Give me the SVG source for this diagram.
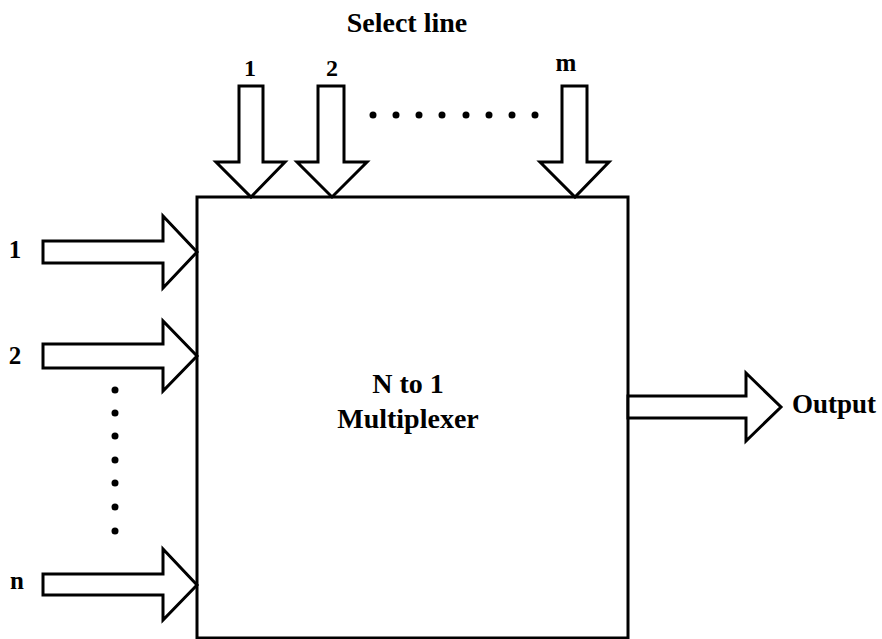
<svg xmlns="http://www.w3.org/2000/svg" width="882" height="639" viewBox="0 0 882 639">
<style>
.ln{fill:#fff;stroke:#000;stroke-width:3;stroke-linejoin:miter}
.t{font-family:"Liberation Serif","Times New Roman",serif;font-weight:bold;fill:#000}
.dot{fill:#000}
</style>
<rect width="882" height="639" fill="#fff"/>
<g id="mux">
<rect class="ln" x="197" y="197" width="431" height="441"/>
<text class="t" x="408" y="393" font-size="28" text-anchor="middle">N to 1</text>
<text class="t" x="408" y="428" font-size="28" text-anchor="middle">Multiplexer</text>
</g>
<g id="select-title"><text class="t" x="407" y="32" font-size="28" text-anchor="middle">Select line</text></g>
<g id="connectors">
<g id="sel1"><polygon class="ln" points="239,86 263,86 263,162 285,162 251,197 216,162 239,162"/><text class="t" x="250" y="76" font-size="24" text-anchor="middle">1</text></g>
<g id="sel2"><polygon class="ln" points="318,86 344,86 344,162 367,162 332,197 297,162 318,162"/><text class="t" x="332" y="76" font-size="24" text-anchor="middle">2</text></g>
<g id="selm"><polygon class="ln" points="562,86 587,86 587,162 609,162 575,197 540,162 562,162"/><text class="t" x="566" y="71" font-size="25" text-anchor="middle">m</text></g>
<g id="in1"><polygon class="ln" points="43,241 163,241 163,216 197,252 163,288 163,263 43,263"/><text class="t" x="15" y="258" font-size="25" text-anchor="middle">1</text></g>
<g id="in2"><polygon class="ln" points="43,344 163,344 163,321 197,356 163,391 163,368 43,368"/><text class="t" x="15" y="364" font-size="25" text-anchor="middle">2</text></g>
<g id="inn"><polygon class="ln" points="43,574 163,574 163,549 197,585 163,620 163,595 43,595"/><text class="t" x="17" y="589" font-size="25" text-anchor="middle">n</text></g>
<g id="out"><polygon class="ln" points="628,396 746,396 746,373 781,407 746,441 746,418 628,418"/><text class="t" x="792" y="413" font-size="27">Output</text></g>
</g>
<g id="dots-h">
<circle class="dot" cx="373" cy="115" r="3.5"/><circle class="dot" cx="396" cy="115" r="3.5"/><circle class="dot" cx="419" cy="115" r="3.5"/><circle class="dot" cx="442" cy="115" r="3.5"/><circle class="dot" cx="466" cy="115" r="3.5"/><circle class="dot" cx="489" cy="115" r="3.5"/><circle class="dot" cx="512" cy="115" r="3.5"/><circle class="dot" cx="535" cy="115" r="3.5"/>
</g>
<g id="dots-v">
<circle class="dot" cx="115" cy="390" r="3.5"/><circle class="dot" cx="115" cy="413" r="3.5"/><circle class="dot" cx="115" cy="436" r="3.5"/><circle class="dot" cx="115" cy="460" r="3.5"/><circle class="dot" cx="115" cy="483" r="3.5"/><circle class="dot" cx="115" cy="507" r="3.5"/><circle class="dot" cx="115" cy="531" r="3.5"/>
</g>
</svg>
